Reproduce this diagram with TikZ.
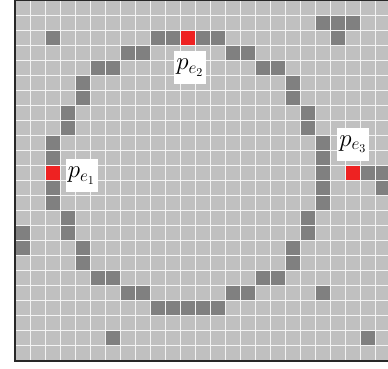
\documentclass[tikz,border=0pt]{standalone}
\usepackage{graphicx}
\definecolor{cellgray}{RGB}{192,192,192}
\definecolor{marked}{RGB}{128,128,128}
\definecolor{hit}{RGB}{238,34,34}
\definecolor{gapcol}{RGB}{244,244,244}
\definecolor{bordercol}{RGB}{40,40,40}
\tikzset{
  gridcell/.style={fill=cellgray},
  darkcell/.style={fill=marked},
  redcell/.style={fill=hit},
  tag/.style={fill=white, inner sep=1pt, minimum width=32pt, minimum height=33pt,
              font=\fontsize{20}{22}\selectfont},
  borderline/.style={color=bordercol, line width=2pt},
}
% cell (i,j): column i from the left border, row j from the top
\newcommand{\paintcell}[3]{\fill[#1] ({16+15*#2},{15*#3+0.5}) rectangle ++(13.6,14);}
% enlarged point label
\newcommand{\ptlabel}[1]{\scalebox{1.2}{$p_{e_{#1}}$}}
\begin{document}
\begin{tikzpicture}[x=1pt,y=-1pt]
\useasboundingbox (0,0) rectangle (388,368);
\fill[white] (0,0) rectangle (388,368);
\begin{scope}
  \clip (15,0) rectangle (388,360);
  \fill[gapcol] (15,0) rectangle (390,360);
  \foreach \i in {0,...,24}{
    \foreach \j in {0,...,23}{
      \paintcell{gridcell}{\i}{\j}
    }
  }
  % discretised circle
  \foreach \i/\j in {9/2,10/2,12/2,13/2,
                     7/3,8/3,14/3,15/3,
                     5/4,6/4,16/4,17/4,
                     4/5,4/6,18/5,18/6,
                     3/7,3/8,19/7,19/8,
                     2/9,2/10,2/12,2/13,
                     20/9,20/10,20/11,20/12,20/13,
                     3/14,3/15,19/14,19/15,
                     4/16,4/17,18/16,18/17,
                     5/18,6/18,16/18,17/18,
                     7/19,8/19,14/19,15/19,
                     9/20,10/20,11/20,12/20,13/20}{
    \paintcell{darkcell}{\i}{\j}
  }
  % scattered outliers
  \foreach \i/\j in {2/2,20/1,21/1,22/1,21/2,0/15,0/16,
                     23/11,24/11,24/12,20/19,6/22,23/22}{
    \paintcell{darkcell}{\i}{\j}
  }
  % selected points
  \foreach \i/\j in {11/2,2/11,22/11}{
    \paintcell{redcell}{\i}{\j}
  }
\end{scope}
% border
\draw[borderline] (15,0) -- (15,361);
\draw[borderline] (14,360.5) -- (388,360.5);
\draw[color=bordercol, line width=1pt] (15,0.5) -- (388,0.5);
% labels
\node[tag] (pe2) at (190,67.5) {\ptlabel{2}};
\node[tag] (pe1) at (81.5,175.5) {\ptlabel{1}};
\node[tag] (pe3) at (353,144) {\ptlabel{3}};
\end{tikzpicture}
\end{document}
